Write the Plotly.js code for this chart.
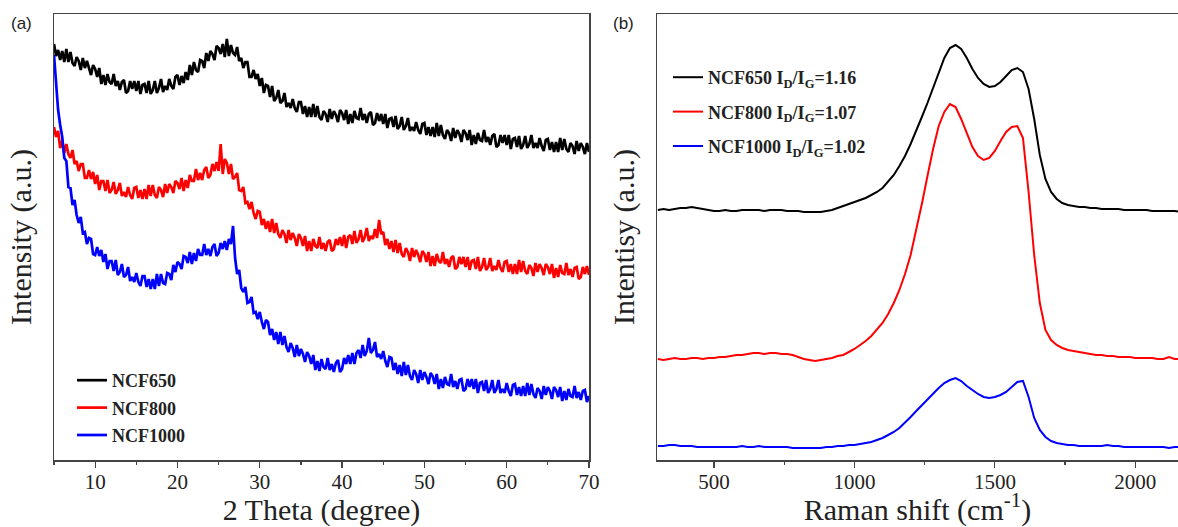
<!DOCTYPE html>
<html>
<head>
<meta charset="utf-8">
<script src="https://cdn.plot.ly/plotly-3.0.1.min.js"></script>
<style>html,body{margin:0;padding:0;background:#fff}#chart{width:1178px;height:527px}</style>
</head>
<body>
<div id="chart"></div>
<script>
// ---- Panel (a): XRD, 2θ from 5 to 70 deg, step 0.25 deg (intensity in a.u., curves offset for display)
const xrdStart = 5, xrdStep = 0.25;
const xrdNCF650 = [
416,404,410,400, 409,398,411,398, 408,397,394,403, 399,390,402,392, 399,393,385,395,
391,383,392,376, 385,375,386,378, 376,386,374,379, 370,378,380,367, 369,379,371,379,
369,379,366,375, 376,367,379,366, 370,379,367,372, 381,368,374,370, 381,374,371,383,
385,375,384,377, 388,380,395,385, 398,390,388,400, 399,392,407,399, 409,406,400,414,
412,406,416,403, 421,404,415,407, 405,413,399,402, 392,398,398,383, 383,390,381,386,
374,382,367,375, 374,363,374,359, 362,370,357,359, 367,353,357,352, 361,352,348,358,
358,346,354,343, 353,343,356,343, 354,343,340,349, 346,338,351,341, 349,345,338,350,
347,340,350,336, 346,337,349,342, 341,352,340,346, 337,346,348,335, 337,347,339,346,
336,346,332,341, 342,333,344,331, 334,343,330,334, 342,329,333,329, 338,330,326,336,
337,325,333,324, 333,323,337,324, 335,325,321,330, 327,319,332,322, 330,326,318,330,
327,320,330,315, 325,316,327,320, 319,330,318,323, 315,324,326,313, 315,325,317,325,
315,325,311,321, 322,313,324,311, 315,324,312,316, 325,312,317,312, 322,314,309,320,
321,310,318,308, 318,308,322,310, 321,311,308,317, 314,306,319,309, 317,313,306,317,
308];
const xrdNCF800 = [
333,323,329,312, 319,307,316,306, 302,310,296,299, 289,296,296,282, 282,290,281,288,
276,285,270,279, 279,269,280,267, 270,278,266,270, 277,264,268,263, 273,265,261,272,
273,262,270,261, 271,261,275,264, 275,265,262,273, 270,263,276,267, 276,273,267,279,
277,271,282,269, 280,272,285,279, 279,291,280,287, 280,290,293,282, 285,296,289,298,
289,316,286,301, 297,286,296,281, 283,287,270,269, 273,257,258,251, 258,247,241,249,
248,235,241,231, 239,228,241,227, 237,226,222,230, 226,217,230,220, 227,222,214,226,
222,214,224,209, 219,209,221,214, 212,223,211,217, 209,218,220,209, 211,221,215,223,
214,225,212,223, 225,216,229,217, 221,230,218,223, 232,219,224,221, 231,222,240,226,
228,215,221,211, 219,208,220,207, 217,206,203,212, 208,199,212,203, 210,205,198,209,
206,198,208,194, 204,194,206,199, 197,208,196,201, 193,202,204,191, 193,203,196,203,
193,203,190,199, 200,191,203,189, 193,202,190,193, 202,189,194,190, 200,192,188,198,
199,188,196,186, 196,186,200,188, 199,189,186,195, 192,184,197,188, 196,192,185,196,
193,186,196,182, 192,183,195,187, 186,197,185,191, 183,192,193,181, 183,193,186,194,
185];
const xrdNCF1000 = [
405,374,350,335, 323,302,299,273, 272,255,260,245, 237,243,227,228, 216,222,221,206,
205,213,204,210, 198,206,191,199, 199,189,200,185, 188,196,183,185, 193,179,183,178,
187,178,174,184, 184,173,181,171, 181,171,186,174, 186,177,176,187, 186,180,195,188,
198,196,191,204, 203,197,208,196, 207,199,211,205, 205,216,205,211, 204,213,216,204,
207,217,211,219, 210,221,216,234, 202,186,190,172, 168,173,157,158, 163,147,148,141,
148,138,131,140, 138,125,131,120, 128,116,128,115, 124,113,108,117, 112,103,115,104,
111,106,98,108, 104,96,105,90, 99,89,101,93, 91,102,90,96, 88,97,100,88,
91,102,96,105, 96,107,96,107, 110,102,115,104, 109,122,107,110, 118,103,106,101,
109,99,93,103, 102,90,97,86, 95,84,98,85, 95,84,80,90, 86,77,90,80,
88,83,76,87, 84,76,86,71, 81,72,83,76, 75,86,73,79, 71,80,81,69,
71,81,73,81, 71,81,67,77, 78,69,80,67, 71,80,67,71, 80,67,71,67,
77,69,64,75, 76,65,73,64, 74,64,77,65, 76,66,62,72, 69,61,74,65,
73,69,61,73, 70,63,73,59, 69,60,71,64, 63,74,62,68, 60,69,70,58,
64];

// ---- Panel (b): Raman, 300 to 2160 cm-1, step 20 cm-1
const ramanStart = 300, ramanStep = 20;
const ramanNCF650 = [
250,251,250,251,252,252,253,252,251,250,
249,249,250,249,249,250,250,250,250,249,
250,250,250,249,249,249,248,248,248,248,
249,250,252,254,256,258,260,262,265,268,
272,278,285,294,304,316,329,343,357,372,
388,402,412,415,411,402,391,382,376,373,
374,378,384,390,392,388,371,341,305,281,
268,261,257,255,254,253,253,252,252,251,
251,251,251,250,250,250,250,250,249,249,
249,249,249,248];
const ramanNCF800 = [
101,100,101,102,101,101,102,102,101,102,
102,103,103,104,105,105,106,107,107,106,
107,107,106,106,105,103,101,100,99,100,
101,102,104,105,108,111,115,119,124,130,
137,146,157,170,186,205,229,256,284,311,
334,348,356,353,341,326,313,304,300,302,
309,319,328,333,334,322,268,205,157,130,
120,115,112,110,109,108,107,106,105,105,
104,104,103,103,103,102,102,102,102,101,
101,103,101,101];
const ramanNCF1000 = [
14,14,15,15,14,14,14,13,13,13,
13,13,13,13,13,14,13,13,14,13,
13,13,13,13,12,12,12,12,12,12,
13,13,14,14,15,15,16,17,18,20,
22,25,28,32,37,43,49,55,61,67,
72,77,80,82,79,74,70,66,63,62,
63,65,68,73,78,79,63,42,30,23,
19,17,16,15,15,14,14,14,14,14,
15,14,14,13,13,13,13,13,13,13,
13,12,13,13];

const seriesNames = ['NCF650', 'NCF800', 'NCF1000'];
const ratioIDIG = ['1.16', '1.07', '1.02'];
const colors = ['#000000', '#ff0000', '#0000ff'];
const xrdSeries = [xrdNCF650, xrdNCF800, xrdNCF1000];
const ramanSeries = [ramanNCF650, ramanNCF800, ramanNCF1000];

const traces = [];
xrdSeries.forEach((ys, i) => traces.push({
  type: 'scatter', mode: 'lines', y: ys, x0: xrdStart, dx: xrdStep,
  name: seriesNames[i], xaxis: 'x', yaxis: 'y', legend: 'legend', legendgroup: 'a' + i,
  line: {color: colors[i], width: 2.7}
}));
ramanSeries.forEach((ys, i) => traces.push({
  type: 'scatter', mode: 'lines', y: ys, x0: ramanStart, dx: ramanStep,
  name: seriesNames[i] + ' I<sub>D</sub>/I<sub>G</sub>=' + ratioIDIG[i],
  xaxis: 'x2', yaxis: 'y2', legend: 'legend2', legendgroup: 'b' + i,
  line: {color: colors[i], width: 2}
}));

const W = 1178, H = 527;
const px = v => v / W, py = v => 1 - v / H;
const serif = 'Liberation Serif, Times New Roman, serif';
const axisCommon = {
  showgrid: false, zeroline: false, showline: true, linecolor: '#444', linewidth: 1.5,
  ticks: 'outside', ticklen: 6, tickwidth: 1.2, tickcolor: '#444', ticklabelstandoff: -4,
  tickfont: {family: serif, size: 21, color: '#222'}
};
const yCommon = {
  showgrid: false, zeroline: false, showline: true, linecolor: '#444', linewidth: 1.5,
  ticks: '', showticklabels: false, range: [0, 446], fixedrange: true
};

const layout = {
  width: W, height: H, margin: {l: 0, r: 0, t: 0, b: 0},
  paper_bgcolor: '#fff', plot_bgcolor: '#fff', showlegend: true,
  xaxis: Object.assign({}, axisCommon, {
    domain: [px(54), px(589)], range: [5, 70], anchor: 'y', mirror: true,
    tick0: 0, dtick: 10,
    minor: {ticks: 'outside', ticklen: 3, tickcolor: '#444', dtick: 5, tick0: 0, showgrid: false},
    title: {text: '2 Theta (degree)', font: {family: serif, size: 30, color: '#222'}, standoff: 3}
  }),
  yaxis: Object.assign({}, yCommon, {
    domain: [1 - 460 / H, 1 - 14 / H], anchor: 'x', mirror: true,
    title: {text: 'Intensity (a.u.)', font: {family: serif, size: 30, color: '#222'}, standoff: 12}
  }),
  xaxis2: Object.assign({}, axisCommon, {
    domain: [px(657), 1], range: [297, 2152], anchor: 'y2', mirror: true,
    tick0: 0, dtick: 500,
    minor: {ticks: 'outside', ticklen: 3, tickcolor: '#444', dtick: 250, tick0: 0, showgrid: false},
    title: {text: 'Raman shift (cm<sup>-1</sup>)', font: {family: serif, size: 30, color: '#222'}, standoff: 4}
  }),
  yaxis2: Object.assign({}, yCommon, {
    domain: [1 - 460 / H, 1 - 14 / H], anchor: 'x2', mirror: false,
    title: {text: 'Intentisy (a.u.)', font: {family: serif, size: 30, color: '#222'}, standoff: 12}
  }),
  legend: {
    x: px(72), y: py(362), xanchor: 'left', yanchor: 'top',
    bgcolor: 'rgba(0,0,0,0)', borderwidth: 0, traceorder: 'grouped', tracegroupgap: 1,
    font: {family: serif, size: 18, color: '#222', weight: 'bold'}
  },
  legend2: {
    x: px(668), y: py(59), xanchor: 'left', yanchor: 'top',
    bgcolor: 'rgba(0,0,0,0)', borderwidth: 0, traceorder: 'grouped', tracegroupgap: 8,
    font: {family: serif, size: 18, color: '#222', weight: 'bold'}
  },
  annotations: [
    {text: '(a)', xref: 'paper', yref: 'paper', x: px(9), y: py(24), xanchor: 'left', yanchor: 'middle',
     showarrow: false, font: {family: 'Liberation Sans, Arial, sans-serif', size: 17, color: '#222'}},
    {text: '(b)', xref: 'paper', yref: 'paper', x: px(611), y: py(24), xanchor: 'left', yanchor: 'middle',
     showarrow: false, font: {family: 'Liberation Sans, Arial, sans-serif', size: 17, color: '#222'}}
  ]
};

Plotly.newPlot('chart', traces, layout, {displayModeBar: false, staticPlot: true});
</script>
</body>
</html>
